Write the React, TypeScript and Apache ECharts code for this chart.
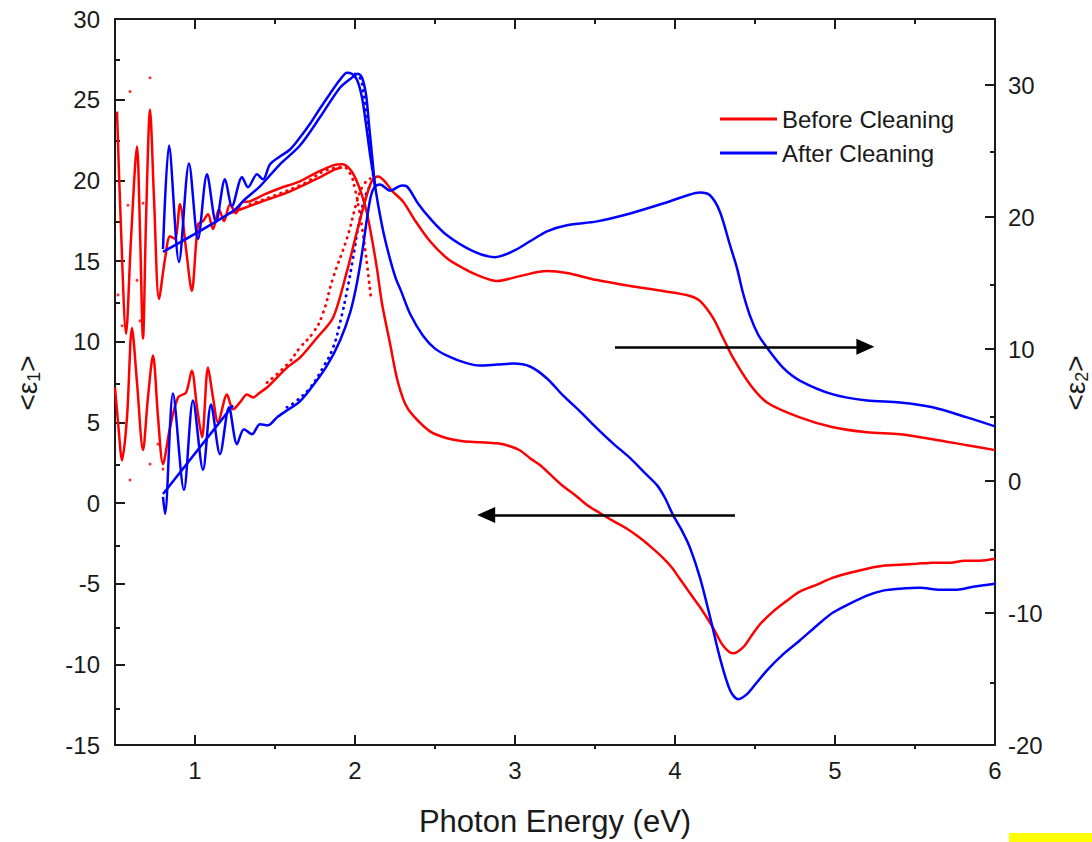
import React, { useEffect, useRef } from 'react';
import * as echarts from 'echarts';

// ---------- tick values ----------
const xMajor = [1, 2, 3, 4, 5, 6];
const xMinor = [1.5, 2.5, 3.5, 4.5, 5.5];
const yLeftMinor = [-12.5, -7.5, -2.5, 2.5, 7.5, 12.5, 17.5, 22.5, 27.5];
const yRightMajor = [-20, -10, 0, 10, 20, 30];
const yRightMinor = [-15, -5, 5, 15, 25];

// ---------- Before cleaning (red) ----------
const beforeEps1: number[][] = [
  [0.5125, 24.26], [0.5375, 16.98], [0.569, 10.49], [0.6, 16.36], [0.6375, 22.1], [0.656, 16.98],
  [0.675, 10.19], [0.694, 17.59], [0.719, 24.38], [0.744, 18.83], [0.775, 12.65], [0.8125, 15.12],
  [0.844, 16.54], [0.875, 16.36], [0.906, 18.52], [0.944, 15.74], [0.98, 13.15], [1.019, 17.28],
  [1.05, 17.47], [1.081, 17.9], [1.1125, 16.98], [1.15, 18.21], [1.181, 17.47], [1.219, 18.52],
  [1.256, 17.96], [1.294, 18.64], [1.344, 18.7], [1.4375, 19.14], [1.531, 19.51], [1.656, 19.94],
  [1.7625, 20.49], [1.8625, 20.93], [1.919, 20.99], [1.969, 20.68], [2.006, 20.06], [2.044, 19.07],
  [2.075, 17.96], [2.106, 16.36], [2.1375, 14.51], [2.169, 12.35], [2.219, 9.88], [2.2625, 7.72],
  [2.3125, 6.17], [2.3625, 5.43], [2.469, 4.44], [2.575, 4.01], [2.675, 3.83], [2.78, 3.77],
  [2.8875, 3.7], [2.969, 3.52], [3.03, 3.27], [3.094, 2.78], [3.156, 2.35], [3.231, 1.67],
  [3.3, 1.05], [3.375, 0.5], [3.45, -0.12], [3.53, -0.62], [3.6125, -1.11], [3.7, -1.6],
  [3.78, -2.16], [3.856, -2.78], [3.925, -3.4], [3.98, -4.0], [4.03, -4.7], [4.094, -5.6],
  [4.156, -6.45], [4.2375, -7.72], [4.3, -8.83], [4.3625, -9.32], [4.425, -8.95], [4.48, -8.2],
  [4.53, -7.53], [4.6125, -6.73], [4.7, -6.05], [4.78, -5.49], [4.8875, -5.06], [4.9875, -4.63],
  [5.094, -4.32], [5.2, -4.07], [5.3, -3.89], [5.406, -3.83], [5.51, -3.77], [5.6125, -3.7],
  [5.72, -3.7], [5.81, -3.58], [5.906, -3.58], [6.0, -3.46]
];
const beforeEps1Second: number[][] = [
  [1.219, 17.96], [1.406, 18.64], [1.594, 19.32], [1.78, 20.19], [1.875, 20.68], [1.919, 20.8]
];
const beforeEps1Model: number[][] = [
  [1.344, 18.52], [1.656, 19.69], [1.8625, 20.74], [1.925, 20.8], [1.969, 20.43], [2.0, 19.44],
  [2.025, 18.21], [2.05, 16.67], [2.075, 14.81], [2.1, 12.65]
];
const beforeEps1Dots: number[][] = [
  [0.581, 18.46], [0.594, 25.5], [0.6375, 13.8], [0.675, 18.58], [0.719, 26.36]
];
const beforeEps2: number[][] = [
  [0.5, 7.08], [0.519, 4.45], [0.544, 1.58], [0.575, 4.82], [0.606, 11.6], [0.6375, 7.46],
  [0.675, 2.34], [0.706, 6.33], [0.7375, 9.5], [0.769, 4.82], [0.8, 1.28], [0.844, 4.07],
  [0.894, 6.33], [0.944, 6.7], [0.98, 8.36], [1.0125, 5.58], [1.044, 3.32], [1.081, 8.59],
  [1.1125, 6.33], [1.144, 4.45], [1.2, 6.56], [1.2375, 5.43], [1.281, 5.95], [1.325, 6.56],
  [1.3625, 6.33], [1.406, 6.71], [1.45, 7.08], [1.575, 8.59], [1.656, 9.34], [1.7625, 10.85],
  [1.8625, 12.36], [1.95, 15.9], [2.0125, 18.91], [2.0625, 21.18], [2.106, 22.76], [2.144, 23.06],
  [2.1875, 22.68], [2.23, 22.0], [2.3, 21.17], [2.375, 19.74], [2.469, 18.16], [2.575, 16.88],
  [2.675, 16.13], [2.78, 15.52], [2.8875, 15.15], [3.03, 15.52], [3.2, 15.9], [3.325, 15.75],
  [3.5125, 15.22], [3.72, 14.77], [3.925, 14.39], [4.094, 14.02], [4.156, 13.64], [4.2375, 12.36],
  [4.3, 10.85], [4.3625, 9.34], [4.469, 7.31], [4.575, 5.95], [4.78, 4.82], [4.9875, 4.07],
  [5.2, 3.69], [5.406, 3.54], [5.61, 3.17], [5.825, 2.71], [6.0, 2.34]
];
const beforeEps2Model: number[][] = [
  [1.45, 7.46], [1.575, 8.82], [1.656, 10.1], [1.7375, 11.23], [1.794, 12.51], [1.8625, 15.37],
  [1.95, 18.39], [2.0125, 21.18], [2.05, 22.38], [2.094, 22.91]
];
const beforeEps2Dots: number[][] = [
  [0.519, 14.1], [0.544, 11.76], [0.594, 0.08], [0.656, 12.13], [0.719, 1.28], [0.769, 2.79], [0.8, 0.9]
];

// ---------- After cleaning (blue) ----------
const afterEps1: number[][] = [
  [0.8, 15.74], [0.8375, 22.16], [0.9, 14.94], [0.9625, 21.05], [1.019, 16.36], [1.075, 20.37],
  [1.131, 17.41], [1.1875, 20.06], [1.231, 18.4], [1.294, 20.19], [1.331, 19.57], [1.3875, 20.37],
  [1.425, 20.06], [1.469, 20.99], [1.531, 21.48], [1.594, 21.91], [1.656, 22.65], [1.72, 23.52],
  [1.78, 24.44], [1.844, 25.37], [1.906, 26.23], [1.95, 26.67], [1.98, 26.6], [2.0125, 26.23],
  [2.044, 25.12], [2.069, 23.46], [2.094, 21.6], [2.119, 20.06], [2.144, 18.52], [2.18, 16.67],
  [2.219, 15.12], [2.256, 13.89], [2.2875, 13.15], [2.344, 11.73], [2.425, 10.37], [2.5, 9.57],
  [2.575, 9.14], [2.6875, 8.7], [2.78, 8.52], [2.8875, 8.58], [2.9875, 8.64], [3.094, 8.46],
  [3.2, 7.72], [3.3, 6.67], [3.406, 5.68], [3.5125, 4.63], [3.6125, 3.7], [3.72, 2.78],
  [3.8125, 1.85], [3.8875, 1.11], [3.9375, 0.31], [3.9875, -0.74], [4.044, -1.73], [4.094, -2.78],
  [4.156, -4.63], [4.22, -7.1], [4.28, -9.57], [4.344, -11.6], [4.394, -12.16], [4.45, -11.85],
  [4.5125, -11.11], [4.575, -10.37], [4.675, -9.38], [4.78, -8.52], [4.8875, -7.59], [4.9875, -6.79],
  [5.094, -6.23], [5.2, -5.74], [5.3, -5.43], [5.406, -5.31], [5.53, -5.25], [5.656, -5.37],
  [5.7625, -5.37], [5.8625, -5.19], [6.0, -5.0]
];
const afterEps1Second: number[][] = [
  [0.8, 15.56], [1.2375, 18.09], [1.3125, 18.83], [1.406, 19.63], [1.531, 20.99], [1.656, 22.16],
  [1.78, 23.89], [1.906, 25.74], [1.98, 26.36], [2.019, 26.6], [2.044, 26.36], [2.069, 25.31],
  [2.0875, 23.46], [2.106, 21.6], [2.125, 19.57]
];
const afterEps1Model: number[][] = [
  [2.0, 26.6], [2.031, 26.36], [2.05, 25.62], [2.069, 24.26], [2.081, 23.15], [2.094, 21.91],
  [2.106, 20.86], [2.119, 19.94]
];
const afterEps2: number[][] = [
  [0.8, -1.21], [0.8125, -2.49], [0.8625, 6.63], [0.931, -0.68], [0.9875, 6.1], [1.05, 0.83],
  [1.1, 5.8], [1.156, 2.03], [1.2125, 5.58], [1.2625, 2.79], [1.306, 3.92], [1.356, 3.54],
  [1.406, 4.3], [1.456, 4.22], [1.5125, 4.82], [1.575, 5.35], [1.656, 6.03], [1.7375, 7.23],
  [1.825, 8.74], [1.906, 10.63], [1.969, 12.74], [2.006, 14.62], [2.044, 17.26], [2.075, 19.89],
  [2.1, 21.63], [2.125, 22.31], [2.156, 22.46], [2.219, 22.0], [2.294, 22.38], [2.325, 22.31],
  [2.394, 21.03], [2.469, 19.89], [2.575, 18.61], [2.7375, 17.41], [2.875, 16.96], [2.9875, 17.41],
  [3.094, 18.16], [3.2, 18.91], [3.325, 19.37], [3.5125, 19.67], [3.72, 20.27], [3.925, 21.02],
  [4.075, 21.63], [4.156, 21.85], [4.22, 21.63], [4.28, 20.42], [4.344, 17.86], [4.3875, 16.13],
  [4.425, 14.24], [4.469, 12.51], [4.52, 11.08], [4.575, 10.1], [4.675, 8.59], [4.78, 7.61],
  [4.9875, 6.56], [5.2, 6.1], [5.406, 5.95], [5.61, 5.58], [5.825, 4.82], [6.0, 4.14]
];
const afterEps2Second: number[][] = [
  [0.8, -0.98], [1.2375, 5.73]
];
const afterEps2Model: number[][] = [
  [1.575, 5.58], [1.6375, 6.1], [1.72, 7.08], [1.8, 8.59], [1.8625, 10.1], [1.906, 11.98],
  [1.95, 14.39], [1.9875, 16.88], [2.031, 19.89], [2.075, 21.93], [2.106, 22.46]
];

// ---------- arrows (annotation, data coordinates) ----------
const eps2Arrow = { from: [3.625, 10.17], to: [5.19, 10.17] };
const eps1Arrow = { from: [4.375, -0.74], to: [2.82, -0.74] };

const RED = '#ff0000';
const BLUE = '#0000ff';
const INK = '#1a1a1a';
const FONT = '"Liberation Sans", Arial, Helvetica, sans-serif';

function lineSeries(name: string, data: number[][], color: string, yAxisIndex: number, extra: any = {}) {
  return {
    type: 'line',
    name,
    data,
    xAxisIndex: 0,
    yAxisIndex,
    symbol: 'none',
    showSymbol: false,
    smooth: 0.3,
    lineStyle: { color, width: 2.5 },
    itemStyle: { color },
    z: 3,
    ...extra,
  };
}

function dottedSeries(name: string, data: number[][], color: string, yAxisIndex: number) {
  return {
    type: 'line',
    name,
    data,
    xAxisIndex: 0,
    yAxisIndex,
    symbol: 'none',
    showSymbol: false,
    smooth: true,
    lineStyle: { color, width: 2.8, type: [0.5, 6], cap: 'round' },
    itemStyle: { color },
    z: 2,
  };
}

function dotSeries(name: string, data: number[][], color: string, yAxisIndex: number) {
  return {
    type: 'scatter',
    name,
    data,
    xAxisIndex: 0,
    yAxisIndex,
    symbol: 'circle',
    symbolSize: 3,
    itemStyle: { color },
    z: 2,
  };
}

function arrowMarkLine(arrow: { from: number[]; to: number[] }) {
  return {
    silent: true,
    animation: false,
    symbol: ['none', 'triangle'],
    symbolSize: [16, 18],
    label: { show: false },
    lineStyle: { color: '#000', width: 2.5, type: 'solid' },
    itemStyle: { color: '#000' },
    data: [[{ coord: arrow.from }, { coord: arrow.to }]],
  };
}

const tickStyle = { color: INK, width: 2 };

function epsLabel(x: number, sub: string) {
  return {
    type: 'text', x, y: 383, rotation: Math.PI / 2, z: 10,
    style: {
      text: '{m|<ε}{s|' + sub + '}{m|>}',
      align: 'center', verticalAlign: 'middle',
      fill: INK, fontFamily: FONT, fontSize: 28,
      rich: {
        m: { fontSize: 28, lineHeight: 32, fill: INK, fontFamily: FONT },
        s: { fontSize: 18, lineHeight: 32, verticalAlign: 'bottom', fill: INK, fontFamily: FONT },
      },
    },
  };
}

export default function App() {
  const ref = useRef<HTMLDivElement>(null);

  useEffect(() => {
    if (!ref.current) return;
    const chart = echarts.init(ref.current, null, { renderer: 'svg' });
    const grids = [
      { left: 115, top: 19, width: 880, height: 730, containLabel: false },
      { left: 115, top: 19, width: 880, height: 730, containLabel: false },
    ];
    const option: any = {
      animation: false,
      backgroundColor: '#ffffff',
      grid: grids,
      legend: {
        data: ['Before Cleaning', 'After Cleaning'],
        orient: 'vertical',
        left: 720,
        top: 107,
        padding: 0,
        icon: 'rect',
        itemWidth: 57,
        itemHeight: 3,
        itemGap: 10,
        textStyle: { fontSize: 24, color: INK, fontFamily: FONT, lineHeight: 20 },
      },
      xAxis: [
        {
          type: 'value', gridIndex: 0, position: 'bottom', min: 0.5, max: 6,
          axisLine: { show: true, onZero: false, lineStyle: tickStyle },
          axisTick: { show: true, inside: true, length: 10, lineStyle: tickStyle, customValues: xMajor },
          axisLabel: { show: true, customValues: xMajor, fontSize: 24, color: INK, fontFamily: FONT, margin: 13 },
          splitLine: { show: false },
          name: 'Photon Energy (eV)', nameLocation: 'middle', nameGap: 61,
          nameTextStyle: { fontSize: 31, color: INK, fontFamily: FONT },
        },
        {
          type: 'value', gridIndex: 0, position: 'top', min: 0.5, max: 6,
          axisLine: { show: true, onZero: false, lineStyle: tickStyle },
          axisTick: { show: true, inside: true, length: 10, lineStyle: tickStyle, customValues: xMajor },
          axisLabel: { show: false },
          splitLine: { show: false },
        },
        {
          type: 'value', gridIndex: 1, position: 'bottom', min: 0.5, max: 6,
          axisLine: { show: false, onZero: false },
          axisTick: { show: true, inside: true, length: 5, lineStyle: tickStyle, customValues: xMinor },
          axisLabel: { show: false },
          splitLine: { show: false },
        },
        {
          type: 'value', gridIndex: 1, position: 'top', min: 0.5, max: 6,
          axisLine: { show: false, onZero: false },
          axisTick: { show: true, inside: true, length: 5, lineStyle: tickStyle, customValues: xMinor },
          axisLabel: { show: false },
          splitLine: { show: false },
        },
      ],
      yAxis: [
        {
          type: 'value', gridIndex: 0, position: 'left', min: -15, max: 30, interval: 5,
          axisLine: { show: true, onZero: false, lineStyle: tickStyle },
          axisTick: { show: true, inside: true, length: 10, lineStyle: tickStyle },
          axisLabel: { fontSize: 24, color: INK, fontFamily: FONT, margin: 15 },
          splitLine: { show: false },
        },
        {
          type: 'value', gridIndex: 0, position: 'right', min: -20, max: 35,
          axisLine: { show: true, onZero: false, lineStyle: tickStyle },
          axisTick: { show: true, inside: true, length: 10, lineStyle: tickStyle, customValues: yRightMajor },
          axisLabel: { show: true, customValues: yRightMajor, fontSize: 24, color: INK, fontFamily: FONT, margin: 13 },
          splitLine: { show: false },
        },
        {
          type: 'value', gridIndex: 1, position: 'left', min: -15, max: 30,
          axisLine: { show: false, onZero: false },
          axisTick: { show: true, inside: true, length: 5, lineStyle: tickStyle, customValues: yLeftMinor },
          axisLabel: { show: false },
          splitLine: { show: false },
        },
        {
          type: 'value', gridIndex: 1, position: 'right', min: -20, max: 35,
          axisLine: { show: false, onZero: false },
          axisTick: { show: true, inside: true, length: 5, lineStyle: tickStyle, customValues: yRightMinor },
          axisLabel: { show: false },
          splitLine: { show: false },
        },
      ],
      series: [
        lineSeries('Before Cleaning', beforeEps1, RED, 0, { markLine: arrowMarkLine(eps1Arrow) }),
        lineSeries('Before ε1 (second)', beforeEps1Second, RED, 0),
        lineSeries('Before ε2', beforeEps2, RED, 1),
        dottedSeries('Before ε1 model', beforeEps1Model, RED, 0),
        dottedSeries('Before ε2 model', beforeEps2Model, RED, 1),
        dotSeries('Before ε1 points', beforeEps1Dots, RED, 0),
        dotSeries('Before ε2 points', beforeEps2Dots, RED, 1),
        lineSeries('After Cleaning', afterEps1, BLUE, 0),
        lineSeries('After ε1 (second)', afterEps1Second, BLUE, 0),
        lineSeries('After ε2', afterEps2, BLUE, 1, { markLine: arrowMarkLine(eps2Arrow) }),
        lineSeries('After ε2 (second)', afterEps2Second, BLUE, 1),
        dottedSeries('After ε1 model', afterEps1Model, BLUE, 0),
        dottedSeries('After ε2 model', afterEps2Model, BLUE, 1),
      ],
      graphic: [
        epsLabel(27, '1'),
        epsLabel(1075, '2'),
        {
          type: 'rect', left: 1009, top: 833, z: 10,
          shape: { width: 83, height: 9 },
          style: { fill: '#ffff00' },
        },
      ],
    };
    chart.setOption(option);
    return () => chart.dispose();
  }, []);

  return (
    <div
      ref={ref}
      style={{ position: 'absolute', left: 0, top: 0, width: 1092, height: 842, background: '#fff' }}
    />
  );
}
